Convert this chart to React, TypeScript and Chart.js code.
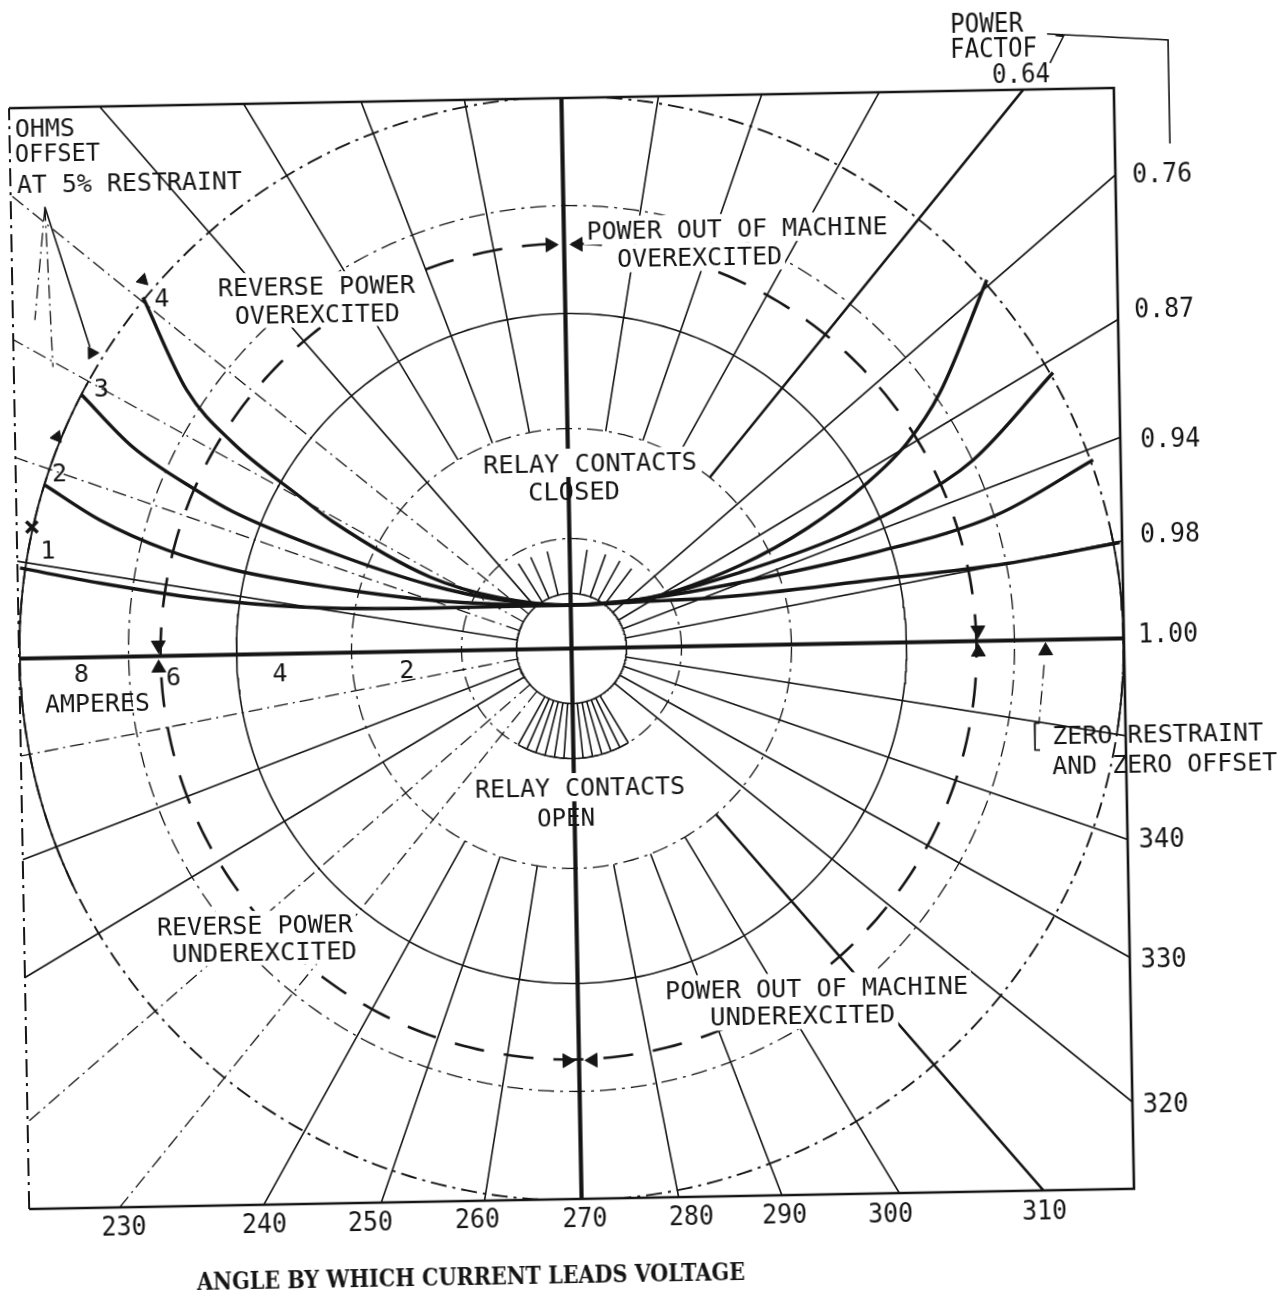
import React, { useEffect, useRef } from "react";
import { Chart, registerables } from "chart.js";

Chart.register(...registerables);

// ===== Values (ohm-plane units, origin = centre of the polar grid) =====
// Rings of the polar grid
const solidRings = [55, 335];
const dashDotRings = [110, 220, 443, 552];
const outerRing = 552;
const outerSolidArcs: [number, number][] = [[150, 205], [-10, 12]];
const innerRing = 110;
const innerSolidArc: [number, number] = [240, 300];
// Zero restraint and zero offset characteristic (long-dash circle)
const zeroRestraintCentre: [number, number] = [-3, -3];
const zeroRestraintRadius = 408;

// Angle grid (angle by which current leads voltage, degrees)
const axisAngles = [0, 90, 180, 270];
const coreRadials = [10, 20, 30, 40, 130, 170, 200, 210, 320, 330, 340, 350];
const outerRadials = [60, 70, 80, 100, 110, 120, 240, 250, 260, 280, 290, 300];
const dashedRadials = [140, 150, 160, 190, 220, 230];
const heavyRadials = [50, 310];
const upperTicks = [52, 60, 69, 80, 103, 113, 121];
const lowerTicks = [240, 245, 250, 255, 260, 265, 275, 280, 285, 290, 295, 300];
const coreRadius = 55;
const tickUpperEnd = 100;
const tickLowerEnd = 110;
const secondRing = 220;
const gridReach = 900;

// Tick labels
const powerFactorLabels = ["0.64", "0.76", "0.87", "0.94", "0.98", "1.00"];
const lowerAngleLabels = ["230", "240", "250", "260", "270", "280", "290", "300", "310"];
const sideAngleLabels = ["340", "330", "320"];
const ampereLabels = ["8", "6", "4", "2"];
const curveLabels = ["1", "2", "3", "4"];

// Relay characteristics at 5% restraint, [R, X] pairs
const curve1: [number, number][] = [
  [-550, 90.6], [-470, 74], [-371, 57], [-271, 46.5], [-141, 43], [0, 43.5],
  [69, 45.5], [150, 48.5], [303, 63], [437, 77], [550, 96],
];
const curve2: [number, number][] = [
  [-523.5, 173], [-469, 137], [-403, 106], [-337, 85], [-237, 65], [-141, 51], [-70, 45.5],
  [0, 43.5], [80, 49], [170, 63], [303, 90], [428, 126], [525, 179],
];
const curve3: [number, number][] = [
  [-485, 262.5], [-435, 209.5], [-369, 163], [-336, 143], [-237, 100], [-140, 66], [-71, 50],
  [0, 43.5], [70, 48], [170, 73], [270, 107], [338, 139], [405, 181], [486.5, 267],
];
const curve4: [number, number][] = [
  [-422, 359], [-380, 265.5], [-335, 212], [-269, 157], [-236, 131], [-140, 74], [-71, 52],
  [0, 43.5], [79, 49], [170, 80], [238, 116], [298.5, 160], [339, 199], [373, 249], [422, 361],
];

// Arrow heads [R, X, direction in degrees clockwise from up]
const arrowHeads: [number, number, number][] = [
  [-413, 11, 180], [-413, -12, 0],
  [406.7, 11, 180], [406.7, -11, 0],
  [474, -11, 0],
  [-14, 404, 90], [14, 404, 270],
  [-12, -412, 90], [14, -412, 270],
  [-510.6, 220.9, 23], [-474.1, 304.3, 210], [-421.8, 376.3, 135],
  [607.7, 494.5, 180], [486, 574.8, 225],
];
const curveOneMark: [number, number] = [-537.3, 131.4];

// Leader lines
const leaderSolid: [number, number][][] = [
  [[-518.4, 451.1], [-476, 310.3]],
  [[486.7, 605.8], [607.6, 597.6], [607.6, 494]],
  [[495, 604], [503, 603], [489.2, 576.7]],
  [[466.6, -83.1], [462.1, -83], [461.6, -110], [466.6, -110.1]],
];
const leaderDashed: [number, number][][] = [
  [[-518.4, 451.1], [-530.5, 338.3]],
  [[-518.4, 451.1], [-513.3, 291]],
  [[472.2, -25.1], [466.1, -83.1]],
];

// ===== Drawing set-up =====
const W = 1286;
const H = 1299;
const INK = "#151515";
const SANS = '"DejaVu Sans Mono", "Liberation Mono", monospace';
const SERIF = '"DejaVu Serif", "Liberation Serif", serif';
const DASH_DOT = [14, 5, 2, 5];

type Note = { text: string; u: number; v: number; w: number; size: number; serif?: boolean; ko?: boolean };

const pfPos: [number, number][] = [[460, 567.8], [599.2, 465.7], [598.7, 330.7], [602.4, 200.5], [600.6, 105.5], [596.8, 5.6]];
const lowerPos: [number, number][] = [[-458, -568.3], [-317.5, -568.9], [-211.5, -568.8], [-104.4, -567.8], [3.1, -568.7], [109.6, -568.7], [202.7, -568.4], [308.7, -569.8], [462.7, -569.2]];
const sidePos: [number, number][] = [[586.5, -199.8], [586.3, -319.8], [585.7, -464.9]];
const ampPos: [number, number][] = [[-490.4, -15], [-398.5, -20.2], [-291.9, -18.7], [-164.9, -17.5]];
const curveLabelPos: [number, number][] = [[-521.7, 109.1], [-508.8, 185.9], [-465.2, 270.1], [-403.1, 359]];

const notes: Note[] = [
  { text: "POWER", u: 426.5, v: 618.4, w: 73, size: 26 },
  { text: "FACTOF", u: 433, v: 592.8, w: 87, size: 26 },
  ...powerFactorLabels.map((t, i) => ({ text: t, u: pfPos[i][0], v: pfPos[i][1], w: i === 0 ? 58 : 60, size: 27 })),
  ...lowerAngleLabels.map((t, i) => ({ text: t, u: lowerPos[i][0], v: lowerPos[i][1], w: 45, size: 27 })),
  ...sideAngleLabels.map((t, i) => ({ text: t, u: sidePos[i][0], v: sidePos[i][1], w: 46, size: 27 })),
  ...ampereLabels.map((t, i) => ({ text: t, u: ampPos[i][0], v: ampPos[i][1], w: 0, size: 25 })),
  ...curveLabels.map((t, i) => ({ text: t, u: curveLabelPos[i][0], v: curveLabelPos[i][1], w: 0, size: 25 })),
  { text: "AMPERES", u: -475, v: -45.8, w: 105, size: 25 },
  { text: "OHMS", u: -517, v: 530.6, w: 60, size: 25 },
  { text: "OFFSET", u: -504.9, v: 505.4, w: 85, size: 25 },
  { text: "AT 5% RESTRAINT", u: -433.5, v: 474.6, w: 225, size: 25 },
  { text: "REVERSE POWER", u: -248.4, v: 367.2, w: 197, size: 25, ko: true },
  { text: "OVEREXCITED", u: -247.9, v: 340.1, w: 165, size: 25, ko: true },
  { text: "POWER OUT OF MACHINE", u: 173.2, v: 417.5, w: 301, size: 25, ko: true },
  { text: "OVEREXCITED", u: 135.2, v: 389.2, w: 165, size: 25, ko: true },
  { text: "RELAY CONTACTS", u: 21.9, v: 185.7, w: 214, size: 25, ko: true },
  { text: "CLOSED", u: 5.4, v: 157.5, w: 92, size: 25 },
  { text: "RELAY CONTACTS", u: 6, v: -138.7, w: 210, size: 25, ko: true },
  { text: "OPEN", u: -8.6, v: -168.4, w: 58, size: 25 },
  { text: "REVERSE POWER", u: -321.6, v: -270.7, w: 196, size: 25, ko: true },
  { text: "UNDEREXCITED", u: -312.5, v: -296.9, w: 185, size: 25, ko: true },
  { text: "POWER OUT OF MACHINE", u: 238.8, v: -343, w: 303, size: 25, ko: true },
  { text: "UNDEREXCITED", u: 224.3, v: -370.7, w: 185, size: 25, ko: true },
  { text: "ZERO RESTRAINT", u: 584.5, v: -95.2, w: 211, size: 25 },
  { text: "AND ZERO OFFSET", u: 590.9, v: -124.9, w: 225, size: 25 },
  { text: "ANGLE BY WHICH CURRENT LEADS VOLTAGE", u: -112, v: -625.7, w: 548, size: 24, serif: true },
];

const rad = (d: number) => (d * Math.PI) / 180;
const GAP = { x: NaN, y: NaN };

function arcPoints(r: number, a0: number, a1: number, cu = 0, cv = 0) {
  const pts: { x: number; y: number }[] = [];
  for (let a = a0; a <= a1 + 1e-9; a += 1) pts.push({ x: cu + r * Math.cos(rad(a)), y: cv + r * Math.sin(rad(a)) });
  return pts;
}
function radials(angles: number[], r1: number, r2: number) {
  const pts: { x: number; y: number }[] = [];
  angles.forEach((a) => {
    pts.push({ x: r1 * Math.cos(rad(a)), y: r1 * Math.sin(rad(a)) });
    pts.push({ x: r2 * Math.cos(rad(a)), y: r2 * Math.sin(rad(a)) });
    pts.push(GAP);
  });
  return pts;
}
function polylines(lines: [number, number][][]) {
  const pts: { x: number; y: number }[] = [];
  lines.forEach((l) => {
    l.forEach(([x, y]) => pts.push({ x, y }));
    pts.push(GAP);
  });
  return pts;
}
const toPts = (c: [number, number][]) => c.map(([x, y]) => ({ x, y }));

function buildDatasets() {
  const base = {
    showLine: true, pointRadius: 0, pointHoverRadius: 0, borderColor: INK, backgroundColor: INK,
    fill: false, tension: 0, spanGaps: false, borderCapStyle: "butt" as const,
  };
  const ds: any[] = [];
  // markers on top
  ds.push({
    ...base, showLine: false, clip: false, data: arrowHeads.map(([x, y]) => ({ x, y })),
    pointStyle: "triangle", pointRadius: arrowHeads.map((a, i) => (i >= 9 ? 7 : 8)),
    pointRotation: arrowHeads.map((a) => a[2]), pointBorderWidth: 1, pointBackgroundColor: INK, pointBorderColor: INK,
  });
  ds.push({
    ...base, showLine: false, data: [{ x: curveOneMark[0], y: curveOneMark[1] }],
    pointStyle: "crossRot", pointRadius: 8, pointBorderWidth: 3.5, pointBorderColor: INK,
  });
  // characteristic curves
  [curve1, curve2, curve3, curve4].forEach((c) =>
    ds.push({ ...base, data: toPts(c), borderWidth: 3.4, cubicInterpolationMode: "monotone" })
  );
  // leaders
  ds.push({ ...base, clip: false, data: polylines(leaderSolid), borderWidth: 1.6 });
  ds.push({ ...base, clip: false, data: polylines(leaderDashed), borderWidth: 1.3, borderDash: DASH_DOT });
  // axes and heavy radials
  ds.push({ ...base, data: radials(axisAngles, 0, gridReach), borderWidth: 4.2 });
  ds.push({ ...base, data: radials(heavyRadials, secondRing, gridReach), borderWidth: 2.6 });
  // grid radials
  ds.push({ ...base, data: radials(coreRadials, coreRadius, gridReach), borderWidth: 1.6 });
  ds.push({ ...base, data: radials(outerRadials, secondRing, gridReach), borderWidth: 1.6 });
  ds.push({ ...base, data: radials(dashedRadials, coreRadius, gridReach), borderWidth: 1.3, borderDash: DASH_DOT });
  ds.push({ ...base, data: [...radials(upperTicks, coreRadius, tickUpperEnd), ...radials(lowerTicks, coreRadius, tickLowerEnd)], borderWidth: 1.6 });
  // zero restraint circle
  ds.push({
    ...base, data: arcPoints(zeroRestraintRadius, 0, 360, zeroRestraintCentre[0], zeroRestraintCentre[1]),
    borderWidth: 2.6, borderDash: [30, 20],
  });
  // rings
  solidRings.forEach((r) => ds.push({ ...base, data: arcPoints(r, 0, 360), borderWidth: 1.6 }));
  dashDotRings.forEach((r) =>
    ds.push({ ...base, data: arcPoints(r, 0, 360), borderWidth: r === outerRing ? 1.9 : 1.3, borderDash: [16, 6, 3, 6] })
  );
  ds.push({
    ...base,
    data: [...arcPoints(outerRing, outerSolidArcs[0][0], outerSolidArcs[0][1]), GAP, ...arcPoints(outerRing, outerSolidArcs[1][0], outerSolidArcs[1][1])],
    borderWidth: 1.9,
  });
  ds.push({ ...base, data: arcPoints(innerRing, innerSolidArc[0], innerSolidArc[1]), borderWidth: 1.6 });
  return ds;
}

function drawNote(ctx: CanvasRenderingContext2D, x: number, y: number, n: Note) {
  const family = n.serif ? SERIF : SANS;
  ctx.save();
  ctx.font = `${n.serif ? "bold " : ""}${n.size}px ${family}`;
  const m = ctx.measureText(n.text).width;
  const sx = n.w ? n.w / m : 1;
  const cap = n.size * 0.73;
  ctx.translate(x, y);
  ctx.scale(sx, 1);
  if (n.ko) {
    ctx.fillStyle = "#ffffff";
    ctx.fillRect(-m / 2 - 3, -cap / 2 - 5, m + 6, cap + 10);
  }
  ctx.fillStyle = INK;
  ctx.textAlign = "center";
  ctx.textBaseline = "alphabetic";
  ctx.fillText(n.text, 0, cap / 2);
  ctx.restore();
}

const decorations = {
  id: "decorations",
  beforeDraw(chart: any) {
    const { ctx, width, height } = chart;
    ctx.save();
    ctx.fillStyle = "#ffffff";
    ctx.fillRect(0, 0, width, height);
    ctx.restore();
  },
  afterDatasetsDraw(chart: any) {
    const { ctx, chartArea: a } = chart;
    const xs = chart.scales.x;
    const ys = chart.scales.y;
    notes.forEach((n) => drawNote(ctx, xs.getPixelForValue(n.u), ys.getPixelForValue(n.v), n));
    // frame
    ctx.save();
    ctx.strokeStyle = INK;
    ctx.lineWidth = 2.6;
    ctx.beginPath();
    ctx.moveTo(a.left, a.top);
    ctx.lineTo(a.right, a.top);
    ctx.lineTo(a.right, a.bottom);
    ctx.lineTo(a.left, a.bottom);
    ctx.stroke();
    ctx.lineWidth = 2;
    ctx.setLineDash([18, 6, 3, 6]);
    ctx.beginPath();
    ctx.moveTo(a.left, a.bottom);
    ctx.lineTo(a.left, a.top);
    ctx.stroke();
    ctx.restore();
  },
};

export default function App() {
  const ref = useRef<HTMLCanvasElement>(null);
  useEffect(() => {
    const html = document.documentElement;
    const prev = html.style.overflow;
    html.style.overflow = "hidden";
    const chart = new Chart(ref.current as HTMLCanvasElement, {
      type: "scatter",
      data: { datasets: buildDatasets() },
      options: {
        responsive: false,
        maintainAspectRatio: false,
        animation: false,
        devicePixelRatio: 1,
        events: [],
        layout: { padding: { left: 19, top: 98, right: 162, bottom: 100 } },
        scales: {
          x: { type: "linear", min: -552.5, max: 552.5, display: false },
          y: { type: "linear", min: -550.5, max: 550.5, display: false },
        },
        plugins: { legend: { display: false }, tooltip: { enabled: false } },
      } as any,
      plugins: [decorations],
    });
    return () => {
      chart.destroy();
      html.style.overflow = prev;
    };
  }, []);
  return (
    <div
      style={{
        position: "fixed",
        left: 0,
        top: 0,
        width: W,
        height: H,
        transform: "rotate(-1.05deg)",
        transformOrigin: "571.5px 648.5px",
      }}
    >
      <canvas ref={ref} width={W} height={H} style={{ display: "block" }} />
    </div>
  );
}
